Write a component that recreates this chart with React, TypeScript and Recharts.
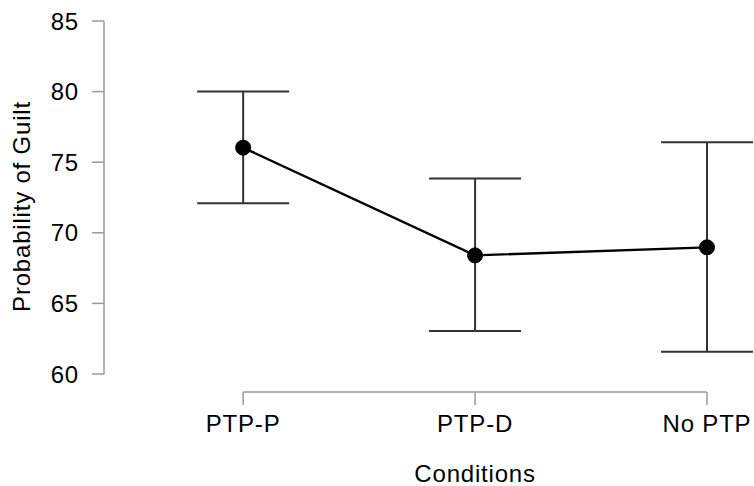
import { ErrorBar, Line, LineChart, ReferenceLine, XAxis, YAxis } from "recharts";

const conditions = ["PTP-P", "PTP-D", "No PTP"];
const means = [76.03, 68.4, 68.97];
const lower = [72.09, 63.05, 61.58];
const upper = [80.0, 73.85, 76.41];
const yTicks = [60, 65, 70, 75, 80, 85];

// axes sit apart from each other like an R base plot, so the domains leave room
const X_MIN = -0.6;
const X_MAX = 2;
const Y_MIN = 58.725;
const Y_MAX = 85;

const data = conditions.map((name, i) => ({
  idx: i,
  name,
  mean: means[i],
  err: [means[i] - lower[i], upper[i] - means[i]]
}));

const axisColor = "#9a9a9a";
const font = 24;
const textStyle = { fontSize: font, letterSpacing: 0.8, fill: "#000" };

function XLabel({ viewBox }: any) {
  const { x, y, width, height } = viewBox;
  const cx = x + (width * (1 - X_MIN)) / (X_MAX - X_MIN);
  return (
    <text x={cx} y={y + height - 4.5} textAnchor="middle" style={textStyle}>
      Conditions
    </text>
  );
}

export default function App() {
  return (
    <div style={{ position: "absolute", left: 0, top: 0, fontFamily: "'Liberation Sans', Arial, sans-serif" }}>
      <LineChart width={754} height={486} data={data} margin={{ top: 21, right: 47, left: 0, bottom: 0 }}>
        <XAxis
          dataKey="idx"
          type="number"
          domain={[X_MIN, X_MAX]}
          ticks={[0, 1, 2]}
          interval={0}
          tickFormatter={(v: number) => conditions[v]}
          axisLine={false}
          tickLine={{ stroke: axisColor, strokeWidth: 1.5 }}
          tickSize={13}
          tickMargin={10}
          tick={{ ...textStyle }}
          height={94}
          label={<XLabel />}
        />
        <YAxis
          type="number"
          domain={[Y_MIN, Y_MAX]}
          ticks={yTicks}
          interval={0}
          axisLine={false}
          tickLine={{ stroke: axisColor, strokeWidth: 1.5 }}
          tickSize={12}
          tickMargin={13}
          tick={{ ...textStyle }}
          width={104}
          label={{
            value: "Probability of Guilt",
            angle: -90,
            position: "insideLeft",
            offset: 21.5,
            style: { ...textStyle, textAnchor: "middle" }
          }}
        />
        <ReferenceLine
          segment={[{ x: X_MIN, y: yTicks[0] }, { x: X_MIN, y: yTicks[yTicks.length - 1] }]}
          stroke={axisColor}
          strokeWidth={1.5}
          ifOverflow="visible"
        />
        <ReferenceLine
          segment={[{ x: 0, y: Y_MIN }, { x: conditions.length - 1, y: Y_MIN }]}
          stroke={axisColor}
          strokeWidth={1.5}
          ifOverflow="visible"
        />
        <Line
          dataKey="mean"
          stroke="#000"
          strokeWidth={2.3}
          dot={{ r: 7.5, fill: "#000", stroke: "#000", strokeWidth: 1 }}
          activeDot={false}
          isAnimationActive={false}
        >
          <ErrorBar dataKey="err" width={46} stroke="#333" strokeWidth={2} direction="y" isAnimationActive={false} />
        </Line>
      </LineChart>
    </div>
  );
}
